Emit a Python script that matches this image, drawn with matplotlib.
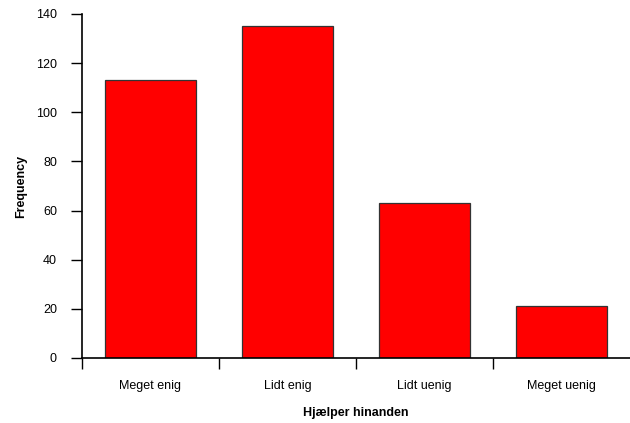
import matplotlib
matplotlib.use("Agg")
import matplotlib.pyplot as plt
import numpy as np

categories = ["Meget enig", "Lidt enig", "Lidt uenig", "Meget uenig"]
frequency = [113, 135, 63, 21]
y_ticks = [0, 20, 40, 60, 80, 100, 120, 140]

plt.rcParams["font.family"] = ["Liberation Sans", "DejaVu Sans"]

fig = plt.figure(figsize=(6.3, 4.23), dpi=100)
ax = fig.add_axes([0.130, 0.1537, 0.870, 0.8133])

x = np.arange(len(categories))
ax.bar(x, frequency, width=0.67, color="#ff0000", edgecolor="#333333", linewidth=0.9, zorder=2)

ax.set_xlim(-0.5, len(categories) - 0.5)
ax.set_ylim(0, 140)
ax.set_yticks(y_ticks)
ax.set_yticklabels([str(v) for v in y_ticks], fontsize=9)

# ticks between categories, labels at category centres
ax.set_xticks(np.arange(len(categories)) - 0.5)
ax.set_xticklabels([])
ax.set_xticks(x, minor=True)
ax.set_xticklabels(categories, minor=True, fontsize=9)
ax.tick_params(axis="x", which="minor", length=0, pad=16)
ax.tick_params(axis="x", which="major", length=8, width=1, direction="out")
ax.tick_params(axis="y", length=8, width=1, direction="out", pad=10)

ax.spines["top"].set_visible(False)
ax.spines["right"].set_visible(False)
ax.spines["left"].set_linewidth(1.2)
ax.spines["bottom"].set_linewidth(1.2)

ax.set_ylabel("Frequency", fontsize=9, fontweight="bold", labelpad=6)
ax.set_xlabel("Hjælper hinanden", fontsize=9, fontweight="bold", labelpad=11)

fig.savefig("out.png", dpi=100)
